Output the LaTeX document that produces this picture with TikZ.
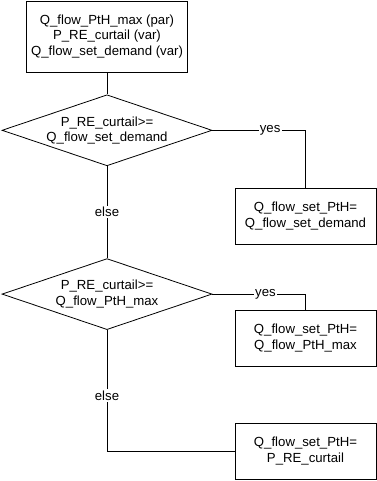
\documentclass[tikz,border=0pt]{standalone}
\usepackage{fontspec}
\setmainfont{Liberation Sans}
\usepackage{tikz}
\usetikzlibrary{shapes.geometric, positioning}
\tikzstyle{startbox} = [rectangle, minimum width=120pt, minimum height=53.25pt,
                        align=center, draw=black]
\tikzstyle{decision} = [diamond, aspect=3, inner sep=0pt, minimum width=157.5pt,
                        minimum height=53.25pt, align=center, draw=black]
\tikzstyle{setbox}   = [rectangle, minimum width=105.75pt, minimum height=42pt,
                        align=center, draw=black]
\tikzstyle{line}     = [draw=black, line width=0.6pt]
\tikzstyle{lbl}      = [fill=white, inner sep=1pt]

\begin{document}
\begin{tikzpicture}[node distance=16.5pt, line width=0.6pt,
    every node/.style={font=\fontsize{9.9pt}{11.6pt}\selectfont}]
    \useasboundingbox (0pt,0pt) rectangle (282.75pt,-360.75pt);
    \node (init) [startbox] at (80.25pt,-27.375pt)
        {Q\_flow\_PtH\_max (par)\\P\_RE\_curtail (var)\\Q\_flow\_set\_demand (var)};
    \node (dec1) [decision, below=of init] {P\_RE\_curtail>=\\Q\_flow\_set\_demand};
    \node (dec2) [decision, below=69pt of dec1] {P\_RE\_curtail>=\\Q\_flow\_PtH\_max};
    \node (set1) [setbox] at (229.125pt,-162pt) {Q\_flow\_set\_PtH=\\Q\_flow\_set\_demand};
    \node (set2) [setbox] at (229.125pt,-253.5pt) {Q\_flow\_set\_PtH=\\Q\_flow\_PtH\_max};
    \node (set3) [setbox] at (229.125pt,-338.25pt) {Q\_flow\_set\_PtH=\\P\_RE\_curtail};

    \draw[line] (init) -- (dec1);
    \draw[line] (dec1.east) -| node[lbl, pos=0.31] {yes} (set1.north);
    \draw[line] (dec1.south) -- node[lbl] {else} (dec2.north);
    \draw[line] (dec2.east) -| node[lbl, pos=0.285] {yes} (set2.north);
    \draw[line] (dec2.south) |- node[lbl, pos=0.27] {else} (set3.west);
\end{tikzpicture}
\end{document}
